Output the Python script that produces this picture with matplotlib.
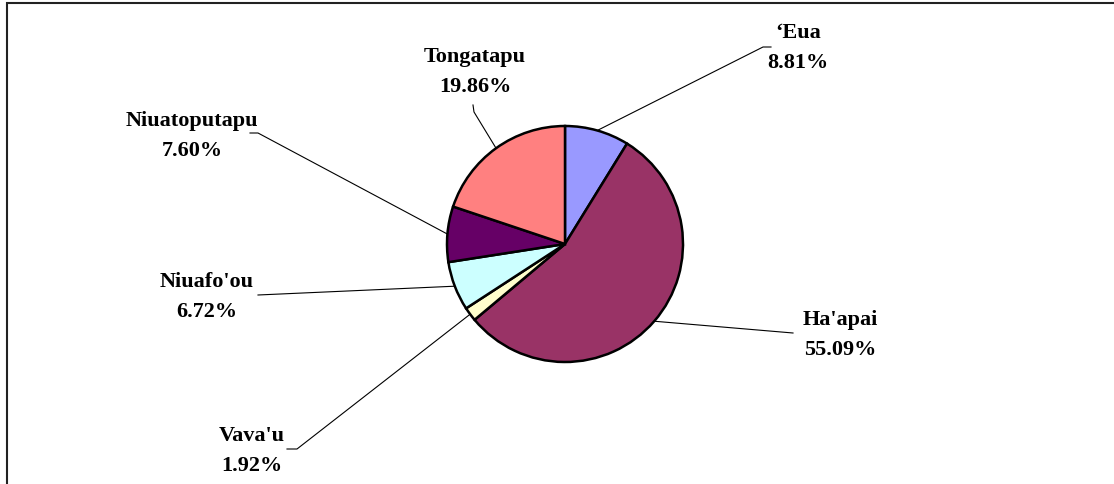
import numpy as np
import matplotlib.pyplot as plt
from matplotlib.patches import Rectangle

# share of each island group, clockwise from 12 o'clock
islands = ["\u2018Eua", "Ha'apai", "Vava'u", "Niuafo'ou", "Niuatoputapu", "Tongatapu"]
shares = [8.81, 55.09, 1.92, 6.72, 7.60, 19.86]
colors = ["#9999FF", "#993366", "#FFFFCC", "#CCFFFF", "#660066", "#FF8080"]

W, H = 1114, 485
fig = plt.figure(figsize=(W / 100, H / 100), dpi=100)
ax = fig.add_axes([0, 0, 1, 1])
ax.set_xlim(0, W)
ax.set_ylim(0, H)
ax.set_aspect("equal")
ax.axis("off")

def px(x, y):
    # screen pixel (y down) -> axes coords (y up)
    return x, H - y

cx, cy = px(565, 245)
r = 118
wedges, _ = ax.pie(shares, colors=colors, startangle=90, counterclock=False,
                   center=(cx, cy), radius=r,
                   wedgeprops=dict(edgecolor="black", linewidth=1.8))
ax.set_xlim(0, W)
ax.set_ylim(0, H)

# label text centres and leader elbows (pixel layout)
label_pos = [(798, 48), (840, 335), (252, 451), (207, 297), (192, 136), (475, 72)]
elbows = [
    [(763, 48), (771, 48)],
    [(793, 334)],
    [(297, 450), (287, 450)],
    [(258, 296)],
    [(258, 134), (250, 134)],
    [(474, 113), (473, 106)],
]

for w, name, val, (tx, ty), elb in zip(wedges, islands, shares, label_pos, elbows):
    mid = np.deg2rad((w.theta1 + w.theta2) / 2)
    ex, ey = cx + r * np.cos(mid), cy + r * np.sin(mid)
    pts = [(ex, ey)] + [px(*p) for p in elb]
    xs, ys = zip(*pts)
    ax.plot(xs, ys, color="black", lw=0.8, zorder=0)
    ax.text(*px(tx, ty), f"{name}\n{val:.2f}%", ha="center", va="center",
            multialignment="center", fontsize=16, fontweight="bold",
            family="Liberation Serif", linespacing=1.65)

# chart area border, running off the right and bottom edges
ax.add_patch(Rectangle(px(7, H + 10), W, H + 6, fill=False,
                       edgecolor="#222222", lw=1.5, clip_on=False))

fig.savefig("out.png", dpi=100)
